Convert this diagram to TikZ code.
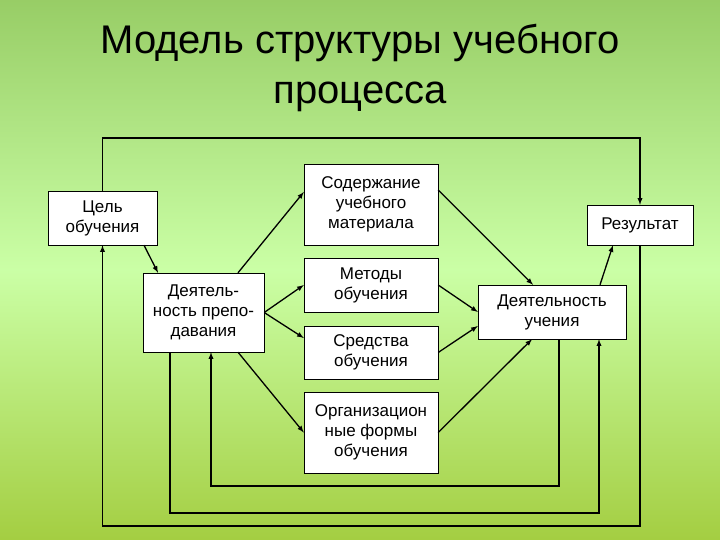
\documentclass[tikz,border=0pt]{standalone}
\usepackage{fontspec}
\setmainfont{Liberation Sans}
\usetikzlibrary{arrows}
\begin{document}
\begin{tikzpicture}[x=1pt, y=-1pt]
    \tikzstyle{every node} = [font=\fontsize{17}{20}\selectfont, align=center]
    \tikzstyle{blok} = [draw, fill=white, inner sep=1pt]
    \tikzstyle{leg} = [line width=1.3pt, -latex]

    \shade[top color=green!35!olive!60!white, bottom color=olive!70!green!55!white,
        middle color=green!45!lime!35!white] (0,0) rectangle (720,540);
    \useasboundingbox (0,0) rectangle (720,540);

    \node[font=\fontsize{40}{50}\selectfont] (titlu) at (360,68) {Модель структуры учебного\\процесса};

    \node[blok, minimum width=109, minimum height=54] (cel) at (102.5,218) {Цель\\обучения};
    \node[blok, minimum width=121, minimum height=79] (prep) at (203.5,312.5) {Деятель-\\ность препо-\\давания};
    \node[blok, minimum width=134, minimum height=81] (sod) at (371,204.5) {Содержание\\учебного\\материала};
    \node[blok, minimum width=134, minimum height=54] (met) at (371,285) {Методы\\обучения};
    \node[blok, minimum width=134, minimum height=53] (sred) at (371,352.5) {Средства\\обучения};
    \node[blok, minimum width=134, minimum height=81] (org) at (371,432.5) {Организацион\\ные формы\\обучения};
    \node[blok, minimum width=106, minimum height=40] (rez) at (640,225) {Результат};
    \node[blok, minimum width=148, minimum height=54] (uch) at (552,312) {Деятельность\\учения};

    \coordinate (t) at (0,138);
    \coordinate (b1) at (0,526);
    \coordinate (b2) at (0,513);
    \coordinate (b3) at (0,486);
    \coordinate (p1) at ([xshift=-33.5]prep.south);
    \coordinate (u1) at ([xshift=7]uch.south);

    % bucle
    \draw[leg] (cel.north) -- (cel.north |- t) -| (rez.north);
    \draw[leg] (rez.south) -- (rez.south |- b1) -| (cel.south);
    \draw[leg] (p1) -- (p1 |- b2) -| ([xshift=47]uch.south);
    \draw[leg] (u1) -- (u1 |- b3) -| ([xshift=7.5]prep.south);

    % legaturi
    \draw[leg] ([xshift=41.5]cel.south) -- ([xshift=-45.5]prep.north);
    \draw[leg] ([xshift=34.5]prep.north) -- ([yshift=12.5]sod.west);
    \draw[leg] (prep.east) -- (met.west);
    \draw[leg] (prep.east) -- ([yshift=14.5]sred.west);
    \draw[leg] ([xshift=34.5]prep.south) -- (org.west);
    \draw[leg] ([yshift=14.5]sod.east) -- ([xshift=-19]uch.north);
    \draw[leg] (met.east) -- (uch.west);
    \draw[leg] (sred.east) -- ([yshift=-14]uch.west);
    \draw[leg] (org.east) -- ([xshift=-20]uch.south);
    \draw[leg] ([xshift=48]uch.north) -- ([xshift=-27]rez.south);
\end{tikzpicture}
\end{document}
